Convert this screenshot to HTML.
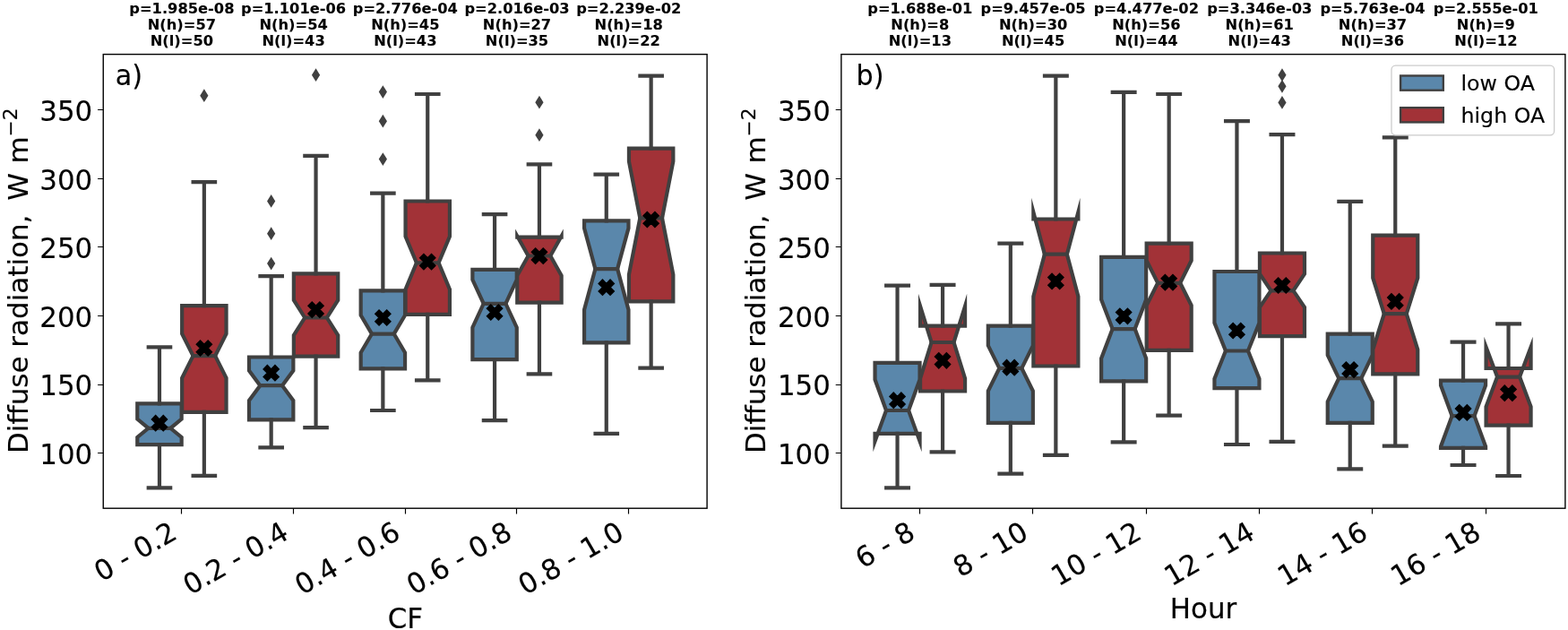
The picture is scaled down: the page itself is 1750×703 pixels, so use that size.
<!DOCTYPE html>
<html lang="en">
<head>
<meta charset="utf-8">
<title>Diffuse radiation box plots</title>
<style>
html,body{margin:0;padding:0;background:#fff;}
body{width:1750px;height:703px;overflow:hidden;}
svg{display:block;}
text{white-space:pre;}
</style>
</head>
<body>
<svg width="1750" height="703" viewBox="0 0 1750 703" font-family="'DejaVu Sans', 'Liberation Sans', sans-serif" fill="#000">
<rect x="0" y="0" width="1750" height="703" fill="#fff"/>
<g class="axes-a">
<path d="M153.27 496.2 L202.65 496.2 L202.65 487.99 L190.31 477.8 L202.65 467.61 L202.65 450.3 L153.27 450.3 L153.27 467.61 L165.61 477.8 L153.27 487.99 Z" fill="#5a87ab" stroke="#404040" stroke-width="4.2" stroke-linejoin="miter" stroke-miterlimit="12"/>
<path d="M177.96 450.3 V387.4 M177.96 496.2 V544.3 M165.74 387.4 H190.18 M165.74 544.3 H190.18 M165.61 477.8 H190.31" fill="none" stroke="#404040" stroke-width="4.2" stroke-linecap="square"/>
<path d="M203.15 459.8 L252.53 459.8 L252.53 421.76 L240.19 397.1 L252.53 372.44 L252.53 341.2 L203.15 341.2 L203.15 372.44 L215.49 397.1 L203.15 421.76 Z" fill="#a23237" stroke="#404040" stroke-width="4.2" stroke-linejoin="miter" stroke-miterlimit="12"/>
<path d="M227.84 341.2 V203.1 M227.84 459.8 V530.8 M215.62 203.1 H240.06 M215.62 530.8 H240.06 M215.49 397.1 H240.19" fill="none" stroke="#404040" stroke-width="4.2" stroke-linecap="square"/>
<path d="M227.84 99.3 L232.44 106.7 L227.84 114.1 L223.24 106.7 Z" fill="#404040"/>
<path d="M277.97 468.4 L327.35 468.4 L327.35 446.94 L315.01 430.2 L327.35 413.46 L327.35 398.5 L277.97 398.5 L277.97 413.46 L290.31 430.2 L277.97 446.94 Z" fill="#5a87ab" stroke="#404040" stroke-width="4.2" stroke-linejoin="miter" stroke-miterlimit="12"/>
<path d="M302.66 398.5 V308.1 M302.66 468.4 V499.4 M290.44 308.1 H314.88 M290.44 499.4 H314.88 M290.31 430.2 H315.01" fill="none" stroke="#404040" stroke-width="4.2" stroke-linecap="square"/>
<path d="M302.66 217 L307.26 224.4 L302.66 231.8 L298.06 224.4 Z" fill="#404040"/>
<path d="M302.66 253.3 L307.26 260.7 L302.66 268.1 L298.06 260.7 Z" fill="#404040"/>
<path d="M302.66 286.7 L307.26 294.1 L302.66 301.5 L298.06 294.1 Z" fill="#404040"/>
<path d="M327.85 397.6 L377.23 397.6 L377.23 374.2 L364.89 354.5 L377.23 334.8 L377.23 305.4 L327.85 305.4 L327.85 334.8 L340.19 354.5 L327.85 374.2 Z" fill="#a23237" stroke="#404040" stroke-width="4.2" stroke-linejoin="miter" stroke-miterlimit="12"/>
<path d="M352.54 305.4 V173.9 M352.54 397.6 V477.1 M340.32 173.9 H364.76 M340.32 477.1 H364.76 M340.19 354.5 H364.89" fill="none" stroke="#404040" stroke-width="4.2" stroke-linecap="square"/>
<path d="M352.54 76.3 L357.14 83.7 L352.54 91.1 L347.94 83.7 Z" fill="#404040"/>
<path d="M402.67 411.4 L452.05 411.4 L452.05 393.45 L439.71 372.6 L452.05 351.75 L452.05 324.3 L402.67 324.3 L402.67 351.75 L415.01 372.6 L402.67 393.45 Z" fill="#5a87ab" stroke="#404040" stroke-width="4.2" stroke-linejoin="miter" stroke-miterlimit="12"/>
<path d="M427.36 324.3 V215.7 M427.36 411.4 V458 M415.14 215.7 H439.58 M415.14 458 H439.58 M415.01 372.6 H439.71" fill="none" stroke="#404040" stroke-width="4.2" stroke-linecap="square"/>
<path d="M427.36 95.2 L431.96 102.6 L427.36 110 L422.76 102.6 Z" fill="#404040"/>
<path d="M427.36 127.8 L431.96 135.2 L427.36 142.6 L422.76 135.2 Z" fill="#404040"/>
<path d="M427.36 170.2 L431.96 177.6 L427.36 185 L422.76 177.6 Z" fill="#404040"/>
<path d="M452.55 350.9 L501.93 350.9 L501.93 322.88 L489.59 293.3 L501.93 263.72 L501.93 224.5 L452.55 224.5 L452.55 263.72 L464.89 293.3 L452.55 322.88 Z" fill="#a23237" stroke="#404040" stroke-width="4.2" stroke-linejoin="miter" stroke-miterlimit="12"/>
<path d="M477.24 224.5 V105 M477.24 350.9 V424.4 M465.02 105 H489.46 M465.02 424.4 H489.46 M464.89 293.3 H489.59" fill="none" stroke="#404040" stroke-width="4.2" stroke-linecap="square"/>
<path d="M527.37 401.2 L576.75 401.2 L576.75 365.44 L564.41 338.8 L576.75 312.16 L576.75 300.8 L527.37 300.8 L527.37 312.16 L539.71 338.8 L527.37 365.44 Z" fill="#5a87ab" stroke="#404040" stroke-width="4.2" stroke-linejoin="miter" stroke-miterlimit="12"/>
<path d="M552.06 300.8 V239.2 M552.06 401.2 V469.1 M539.84 239.2 H564.28 M539.84 469.1 H564.28 M539.71 338.8 H564.41" fill="none" stroke="#404040" stroke-width="4.2" stroke-linecap="square"/>
<path d="M577.25 337.6 L626.63 337.6 L626.63 307.56 L614.29 285.5 L626.63 263.44 L626.63 264.6 L577.25 264.6 L577.25 263.44 L589.59 285.5 L577.25 307.56 Z" fill="#a23237" stroke="#404040" stroke-width="4.2" stroke-linejoin="miter" stroke-miterlimit="12"/>
<path d="M601.94 264.6 V183.3 M601.94 337.6 V417.4 M589.72 183.3 H614.16 M589.72 417.4 H614.16 M589.59 285.5 H614.29" fill="none" stroke="#404040" stroke-width="4.2" stroke-linecap="square"/>
<path d="M601.94 106.8 L606.54 114.2 L601.94 121.6 L597.34 114.2 Z" fill="#404040"/>
<path d="M601.94 143.3 L606.54 150.7 L601.94 158.1 L597.34 150.7 Z" fill="#404040"/>
<path d="M652.07 382.3 L701.45 382.3 L701.45 345.59 L689.11 300.1 L701.45 254.61 L701.45 246.4 L652.07 246.4 L652.07 254.61 L664.41 300.1 L652.07 345.59 Z" fill="#5a87ab" stroke="#404040" stroke-width="4.2" stroke-linejoin="miter" stroke-miterlimit="12"/>
<path d="M676.76 246.4 V194.7 M676.76 382.3 V483.9 M664.54 194.7 H688.98 M664.54 483.9 H688.98 M664.41 300.1 H689.11" fill="none" stroke="#404040" stroke-width="4.2" stroke-linecap="square"/>
<path d="M701.95 336.4 L751.33 336.4 L751.33 306.47 L738.99 243.3 L751.33 180.13 L751.33 165.7 L701.95 165.7 L701.95 180.13 L714.29 243.3 L701.95 306.47 Z" fill="#a23237" stroke="#404040" stroke-width="4.2" stroke-linejoin="miter" stroke-miterlimit="12"/>
<path d="M726.64 165.7 V84.7 M726.64 336.4 V410.6 M714.42 84.7 H738.86 M714.42 410.6 H738.86 M714.29 243.3 H738.99" fill="none" stroke="#404040" stroke-width="4.2" stroke-linecap="square"/>
<path d="M173.66 463.6 L177.96 467.9 L182.26 463.6 L186.56 467.9 L182.26 472.2 L186.56 476.5 L182.26 480.8 L177.96 476.5 L173.66 480.8 L169.36 476.5 L173.66 472.2 L169.36 467.9 Z" fill="#000" stroke="#000" stroke-width="1.4" stroke-linejoin="miter"/>
<path d="M223.54 379.9 L227.84 384.2 L232.14 379.9 L236.44 384.2 L232.14 388.5 L236.44 392.8 L232.14 397.1 L227.84 392.8 L223.54 397.1 L219.24 392.8 L223.54 388.5 L219.24 384.2 Z" fill="#000" stroke="#000" stroke-width="1.4" stroke-linejoin="miter"/>
<path d="M298.36 407.6 L302.66 411.9 L306.96 407.6 L311.26 411.9 L306.96 416.2 L311.26 420.5 L306.96 424.8 L302.66 420.5 L298.36 424.8 L294.06 420.5 L298.36 416.2 L294.06 411.9 Z" fill="#000" stroke="#000" stroke-width="1.4" stroke-linejoin="miter"/>
<path d="M348.24 337 L352.54 341.3 L356.84 337 L361.14 341.3 L356.84 345.6 L361.14 349.9 L356.84 354.2 L352.54 349.9 L348.24 354.2 L343.94 349.9 L348.24 345.6 L343.94 341.3 Z" fill="#000" stroke="#000" stroke-width="1.4" stroke-linejoin="miter"/>
<path d="M423.06 345.9 L427.36 350.2 L431.66 345.9 L435.96 350.2 L431.66 354.5 L435.96 358.8 L431.66 363.1 L427.36 358.8 L423.06 363.1 L418.76 358.8 L423.06 354.5 L418.76 350.2 Z" fill="#000" stroke="#000" stroke-width="1.4" stroke-linejoin="miter"/>
<path d="M472.94 283.5 L477.24 287.8 L481.54 283.5 L485.84 287.8 L481.54 292.1 L485.84 296.4 L481.54 300.7 L477.24 296.4 L472.94 300.7 L468.64 296.4 L472.94 292.1 L468.64 287.8 Z" fill="#000" stroke="#000" stroke-width="1.4" stroke-linejoin="miter"/>
<path d="M547.76 339.9 L552.06 344.2 L556.36 339.9 L560.66 344.2 L556.36 348.5 L560.66 352.8 L556.36 357.1 L552.06 352.8 L547.76 357.1 L543.46 352.8 L547.76 348.5 L543.46 344.2 Z" fill="#000" stroke="#000" stroke-width="1.4" stroke-linejoin="miter"/>
<path d="M597.64 277 L601.94 281.3 L606.24 277 L610.54 281.3 L606.24 285.6 L610.54 289.9 L606.24 294.2 L601.94 289.9 L597.64 294.2 L593.34 289.9 L597.64 285.6 L593.34 281.3 Z" fill="#000" stroke="#000" stroke-width="1.4" stroke-linejoin="miter"/>
<path d="M672.46 312.1 L676.76 316.4 L681.06 312.1 L685.36 316.4 L681.06 320.7 L685.36 325 L681.06 329.3 L676.76 325 L672.46 329.3 L668.16 325 L672.46 320.7 L668.16 316.4 Z" fill="#000" stroke="#000" stroke-width="1.4" stroke-linejoin="miter"/>
<path d="M722.34 236.4 L726.64 240.7 L730.94 236.4 L735.24 240.7 L730.94 245 L735.24 249.3 L730.94 253.6 L726.64 249.3 L722.34 253.6 L718.04 249.3 L722.34 245 L718.04 240.7 Z" fill="#000" stroke="#000" stroke-width="1.4" stroke-linejoin="miter"/>
<rect x="115.25" y="60.6" width="673.85" height="506.6" fill="none" stroke="#000" stroke-width="1.4"/>
<path d="M115.25 122.5 h-6.2 M115.25 199.5 h-6.2 M115.25 275.5 h-6.2 M115.25 352.5 h-6.2 M115.25 429.5 h-6.2 M115.25 505.5 h-6.2 M202.5 567.2 v6.2 M327.5 567.2 v6.2 M452.5 567.2 v6.2 M576.5 567.2 v6.2 M701.5 567.2 v6.2" fill="none" stroke="#000" stroke-width="1.15"/>
<text transform="translate(103.2 134.9) scale(1.012 1.067)" font-size="30.5" text-anchor="end" stroke="#000" stroke-width="0.15">350</text>
<text transform="translate(103.2 211.5) scale(1.012 1.067)" font-size="30.5" text-anchor="end" stroke="#000" stroke-width="0.15">300</text>
<text transform="translate(103.2 288.1) scale(1.012 1.067)" font-size="30.5" text-anchor="end" stroke="#000" stroke-width="0.15">250</text>
<text transform="translate(103.2 364.8) scale(1.012 1.067)" font-size="30.5" text-anchor="end" stroke="#000" stroke-width="0.15">200</text>
<text transform="translate(103.2 441.4) scale(1.012 1.067)" font-size="30.5" text-anchor="end" stroke="#000" stroke-width="0.15">150</text>
<text transform="translate(103.2 518) scale(1.012 1.067)" font-size="30.5" text-anchor="end" stroke="#000" stroke-width="0.15">100</text>
<text transform="translate(199.4 600) rotate(-30) scale(1.012 1.02)" font-size="30.5" text-anchor="end" stroke="#000" stroke-width="0.15">0 - 0.2</text>
<text transform="translate(324.1 600) rotate(-30) scale(1.012 1.02)" font-size="30.5" text-anchor="end" stroke="#000" stroke-width="0.15">0.2 - 0.4</text>
<text transform="translate(448.8 600) rotate(-30) scale(1.012 1.02)" font-size="30.5" text-anchor="end" stroke="#000" stroke-width="0.15">0.4 - 0.6</text>
<text transform="translate(573.5 600) rotate(-30) scale(1.012 1.02)" font-size="30.5" text-anchor="end" stroke="#000" stroke-width="0.15">0.6 - 0.8</text>
<text transform="translate(698.2 600) rotate(-30) scale(1.012 1.02)" font-size="30.5" text-anchor="end" stroke="#000" stroke-width="0.15">0.8 - 1.0</text>
<text transform="translate(202.9 14.7) scale(1.053 1)" font-size="15.45" text-anchor="middle" font-weight="bold" stroke="#000" stroke-width="0.1">p=1.985e-08</text>
<text transform="translate(202.9 32.9) scale(1.053 1)" font-size="15.45" text-anchor="middle" font-weight="bold" stroke="#000" stroke-width="0.1">N(h)=57</text>
<text transform="translate(202.9 51.1) scale(1.053 1)" font-size="15.45" text-anchor="middle" font-weight="bold" stroke="#000" stroke-width="0.1">N(l)=50</text>
<text transform="translate(327.6 14.7) scale(1.053 1)" font-size="15.45" text-anchor="middle" font-weight="bold" stroke="#000" stroke-width="0.1">p=1.101e-06</text>
<text transform="translate(327.6 32.9) scale(1.053 1)" font-size="15.45" text-anchor="middle" font-weight="bold" stroke="#000" stroke-width="0.1">N(h)=54</text>
<text transform="translate(327.6 51.1) scale(1.053 1)" font-size="15.45" text-anchor="middle" font-weight="bold" stroke="#000" stroke-width="0.1">N(l)=43</text>
<text transform="translate(452.3 14.7) scale(1.053 1)" font-size="15.45" text-anchor="middle" font-weight="bold" stroke="#000" stroke-width="0.1">p=2.776e-04</text>
<text transform="translate(452.3 32.9) scale(1.053 1)" font-size="15.45" text-anchor="middle" font-weight="bold" stroke="#000" stroke-width="0.1">N(h)=45</text>
<text transform="translate(452.3 51.1) scale(1.053 1)" font-size="15.45" text-anchor="middle" font-weight="bold" stroke="#000" stroke-width="0.1">N(l)=43</text>
<text transform="translate(577 14.7) scale(1.053 1)" font-size="15.45" text-anchor="middle" font-weight="bold" stroke="#000" stroke-width="0.1">p=2.016e-03</text>
<text transform="translate(577 32.9) scale(1.053 1)" font-size="15.45" text-anchor="middle" font-weight="bold" stroke="#000" stroke-width="0.1">N(h)=27</text>
<text transform="translate(577 51.1) scale(1.053 1)" font-size="15.45" text-anchor="middle" font-weight="bold" stroke="#000" stroke-width="0.1">N(l)=35</text>
<text transform="translate(701.7 14.7) scale(1.053 1)" font-size="15.45" text-anchor="middle" font-weight="bold" stroke="#000" stroke-width="0.1">p=2.239e-02</text>
<text transform="translate(701.7 32.9) scale(1.053 1)" font-size="15.45" text-anchor="middle" font-weight="bold" stroke="#000" stroke-width="0.1">N(h)=18</text>
<text transform="translate(701.7 51.1) scale(1.053 1)" font-size="15.45" text-anchor="middle" font-weight="bold" stroke="#000" stroke-width="0.1">N(l)=22</text>
<text transform="translate(128.8 94.6) scale(0.99 1.067)" font-size="30.5" stroke="#000" stroke-width="0.15">a)</text>
<text transform="translate(452.3 700.5) scale(1.012 1.067)" font-size="30.5" text-anchor="middle" stroke="#000" stroke-width="0.15">CF</text>
<text transform="translate(30.5 506.1) rotate(-90) scale(1.016 0.985)" font-size="30.5" stroke="#000" stroke-width="0.15" xml:space="preserve"><tspan x="0">Diffuse radiation,  </tspan><tspan x="277.85">W </tspan><tspan x="318.5">m</tspan><tspan font-size="21.35" dy="-11.5">−2</tspan></text>
</g>
<g class="axes-b">
<path d="M976.53 483.9 L1026.55 483.9 L1026.55 492.44 L1014.04 458 L1026.55 423.56 L1026.55 404.8 L976.53 404.8 L976.53 423.56 L989.04 458 L976.53 492.44 Z" fill="#5a87ab" stroke="#404040" stroke-width="4.2" stroke-linejoin="miter" stroke-miterlimit="12"/>
<path d="M1001.54 404.8 V318.7 M1001.54 483.9 V544.3 M989.16 318.7 H1013.92 M989.16 544.3 H1013.92 M989.04 458 H1014.04" fill="none" stroke="#404040" stroke-width="4.2" stroke-linecap="square"/>
<path d="M1027.05 436.5 L1077.07 436.5 L1077.07 422.41 L1064.56 382 L1077.07 341.59 L1077.07 363.7 L1027.05 363.7 L1027.05 341.59 L1039.56 382 L1027.05 422.41 Z" fill="#a23237" stroke="#404040" stroke-width="4.2" stroke-linejoin="miter" stroke-miterlimit="12"/>
<path d="M1052.06 363.7 V317.8 M1052.06 436.5 V504.4 M1039.68 317.8 H1064.44 M1039.68 504.4 H1064.44 M1039.56 382 H1064.56" fill="none" stroke="#404040" stroke-width="4.2" stroke-linecap="square"/>
<path d="M1102.83 471.8 L1152.85 471.8 L1152.85 436.2 L1140.34 410.9 L1152.85 385.6 L1152.85 363.7 L1102.83 363.7 L1102.83 385.6 L1115.34 410.9 L1102.83 436.2 Z" fill="#5a87ab" stroke="#404040" stroke-width="4.2" stroke-linejoin="miter" stroke-miterlimit="12"/>
<path d="M1127.84 363.7 V271.6 M1127.84 471.8 V528.6 M1115.46 271.6 H1140.22 M1115.46 528.6 H1140.22 M1115.34 410.9 H1140.34" fill="none" stroke="#404040" stroke-width="4.2" stroke-linecap="square"/>
<path d="M1153.35 408.5 L1203.37 408.5 L1203.37 330.71 L1190.86 283.7 L1203.37 236.69 L1203.37 244.5 L1153.35 244.5 L1153.35 236.69 L1165.86 283.7 L1153.35 330.71 Z" fill="#a23237" stroke="#404040" stroke-width="4.2" stroke-linejoin="miter" stroke-miterlimit="12"/>
<path d="M1178.36 244.5 V84.7 M1178.36 408.5 V507.8 M1165.98 84.7 H1190.74 M1165.98 507.8 H1190.74 M1165.86 283.7 H1190.86" fill="none" stroke="#404040" stroke-width="4.2" stroke-linecap="square"/>
<path d="M1229.13 425.4 L1279.15 425.4 L1279.15 399.9 L1266.64 367.1 L1279.15 334.3 L1279.15 286.8 L1229.13 286.8 L1229.13 334.3 L1241.64 367.1 L1229.13 399.9 Z" fill="#5a87ab" stroke="#404040" stroke-width="4.2" stroke-linejoin="miter" stroke-miterlimit="12"/>
<path d="M1254.14 286.8 V102.8 M1254.14 425.4 V493.3 M1241.76 102.8 H1266.52 M1241.76 493.3 H1266.52 M1241.64 367.1 H1266.64" fill="none" stroke="#404040" stroke-width="4.2" stroke-linecap="square"/>
<path d="M1279.65 390.8 L1329.67 390.8 L1329.67 340.81 L1317.16 315.8 L1329.67 290.79 L1329.67 271.6 L1279.65 271.6 L1279.65 290.79 L1292.16 315.8 L1279.65 340.81 Z" fill="#a23237" stroke="#404040" stroke-width="4.2" stroke-linejoin="miter" stroke-miterlimit="12"/>
<path d="M1304.66 271.6 V105 M1304.66 390.8 V463.6 M1292.28 105 H1317.04 M1292.28 463.6 H1317.04 M1292.16 315.8 H1317.16" fill="none" stroke="#404040" stroke-width="4.2" stroke-linecap="square"/>
<path d="M1355.43 433.1 L1405.45 433.1 L1405.45 422.65 L1392.94 391.5 L1405.45 360.35 L1405.45 303 L1355.43 303 L1355.43 360.35 L1367.94 391.5 L1355.43 422.65 Z" fill="#5a87ab" stroke="#404040" stroke-width="4.2" stroke-linejoin="miter" stroke-miterlimit="12"/>
<path d="M1380.44 303 V135.2 M1380.44 433.1 V496 M1368.06 135.2 H1392.82 M1368.06 496 H1392.82 M1367.94 391.5 H1392.94" fill="none" stroke="#404040" stroke-width="4.2" stroke-linecap="square"/>
<path d="M1405.95 375.1 L1455.97 375.1 L1455.97 342.91 L1443.46 324.3 L1455.97 305.69 L1455.97 282.5 L1405.95 282.5 L1405.95 305.69 L1418.46 324.3 L1405.95 342.91 Z" fill="#a23237" stroke="#404040" stroke-width="4.2" stroke-linejoin="miter" stroke-miterlimit="12"/>
<path d="M1430.96 282.5 V150.2 M1430.96 375.1 V492.8 M1418.58 150.2 H1443.34 M1418.58 492.8 H1443.34 M1418.46 324.3 H1443.46" fill="none" stroke="#404040" stroke-width="4.2" stroke-linecap="square"/>
<path d="M1430.96 76.3 L1435.56 83.7 L1430.96 91.1 L1426.36 83.7 Z" fill="#404040"/>
<path d="M1430.96 88.9 L1435.56 96.3 L1430.96 103.7 L1426.36 96.3 Z" fill="#404040"/>
<path d="M1430.96 107 L1435.56 114.4 L1430.96 121.8 L1426.36 114.4 Z" fill="#404040"/>
<path d="M1481.73 471.8 L1531.75 471.8 L1531.75 448.16 L1519.24 422.2 L1531.75 396.24 L1531.75 372.6 L1481.73 372.6 L1481.73 396.24 L1494.24 422.2 L1481.73 448.16 Z" fill="#5a87ab" stroke="#404040" stroke-width="4.2" stroke-linejoin="miter" stroke-miterlimit="12"/>
<path d="M1506.74 372.6 V224.9 M1506.74 471.8 V523.3 M1494.36 224.9 H1519.12 M1494.36 523.3 H1519.12 M1494.24 422.2 H1519.24" fill="none" stroke="#404040" stroke-width="4.2" stroke-linecap="square"/>
<path d="M1532.25 417.4 L1582.27 417.4 L1582.27 390.15 L1569.76 350.2 L1582.27 310.25 L1582.27 262.6 L1532.25 262.6 L1532.25 310.25 L1544.76 350.2 L1532.25 390.15 Z" fill="#a23237" stroke="#404040" stroke-width="4.2" stroke-linejoin="miter" stroke-miterlimit="12"/>
<path d="M1557.26 262.6 V153.3 M1557.26 417.4 V497.7 M1544.88 153.3 H1569.64 M1544.88 497.7 H1569.64 M1544.76 350.2 H1569.76" fill="none" stroke="#404040" stroke-width="4.2" stroke-linecap="square"/>
<path d="M1608.03 499.9 L1658.05 499.9 L1658.05 498.18 L1645.54 464.1 L1658.05 430.02 L1658.05 424.7 L1608.03 424.7 L1608.03 430.02 L1620.54 464.1 L1608.03 498.18 Z" fill="#5a87ab" stroke="#404040" stroke-width="4.2" stroke-linejoin="miter" stroke-miterlimit="12"/>
<path d="M1633.04 424.7 V381.6 M1633.04 499.9 V519 M1620.66 381.6 H1645.42 M1620.66 519 H1645.42 M1620.54 464.1 H1645.54" fill="none" stroke="#404040" stroke-width="4.2" stroke-linecap="square"/>
<path d="M1658.55 474.6 L1708.57 474.6 L1708.57 453.88 L1696.06 420.6 L1708.57 387.32 L1708.57 411 L1658.55 411 L1658.55 387.32 L1671.06 420.6 L1658.55 453.88 Z" fill="#a23237" stroke="#404040" stroke-width="4.2" stroke-linejoin="miter" stroke-miterlimit="12"/>
<path d="M1683.56 411 V361.3 M1683.56 474.6 V531 M1671.18 361.3 H1695.94 M1671.18 531 H1695.94 M1671.06 420.6 H1696.06" fill="none" stroke="#404040" stroke-width="4.2" stroke-linecap="square"/>
<path d="M997.24 438.1 L1001.54 442.4 L1005.84 438.1 L1010.14 442.4 L1005.84 446.7 L1010.14 451 L1005.84 455.3 L1001.54 451 L997.24 455.3 L992.94 451 L997.24 446.7 L992.94 442.4 Z" fill="#000" stroke="#000" stroke-width="1.4" stroke-linejoin="miter"/>
<path d="M1047.76 393.7 L1052.06 398 L1056.36 393.7 L1060.66 398 L1056.36 402.3 L1060.66 406.6 L1056.36 410.9 L1052.06 406.6 L1047.76 410.9 L1043.46 406.6 L1047.76 402.3 L1043.46 398 Z" fill="#000" stroke="#000" stroke-width="1.4" stroke-linejoin="miter"/>
<path d="M1123.54 401.6 L1127.84 405.9 L1132.14 401.6 L1136.44 405.9 L1132.14 410.2 L1136.44 414.5 L1132.14 418.8 L1127.84 414.5 L1123.54 418.8 L1119.24 414.5 L1123.54 410.2 L1119.24 405.9 Z" fill="#000" stroke="#000" stroke-width="1.4" stroke-linejoin="miter"/>
<path d="M1174.06 305.3 L1178.36 309.6 L1182.66 305.3 L1186.96 309.6 L1182.66 313.9 L1186.96 318.2 L1182.66 322.5 L1178.36 318.2 L1174.06 322.5 L1169.76 318.2 L1174.06 313.9 L1169.76 309.6 Z" fill="#000" stroke="#000" stroke-width="1.4" stroke-linejoin="miter"/>
<path d="M1249.84 344.2 L1254.14 348.5 L1258.44 344.2 L1262.74 348.5 L1258.44 352.8 L1262.74 357.1 L1258.44 361.4 L1254.14 357.1 L1249.84 361.4 L1245.54 357.1 L1249.84 352.8 L1245.54 348.5 Z" fill="#000" stroke="#000" stroke-width="1.4" stroke-linejoin="miter"/>
<path d="M1300.36 306.5 L1304.66 310.8 L1308.96 306.5 L1313.26 310.8 L1308.96 315.1 L1313.26 319.4 L1308.96 323.7 L1304.66 319.4 L1300.36 323.7 L1296.06 319.4 L1300.36 315.1 L1296.06 310.8 Z" fill="#000" stroke="#000" stroke-width="1.4" stroke-linejoin="miter"/>
<path d="M1376.14 360.4 L1380.44 364.7 L1384.74 360.4 L1389.04 364.7 L1384.74 369 L1389.04 373.3 L1384.74 377.6 L1380.44 373.3 L1376.14 377.6 L1371.84 373.3 L1376.14 369 L1371.84 364.7 Z" fill="#000" stroke="#000" stroke-width="1.4" stroke-linejoin="miter"/>
<path d="M1426.66 309.9 L1430.96 314.2 L1435.26 309.9 L1439.56 314.2 L1435.26 318.5 L1439.56 322.8 L1435.26 327.1 L1430.96 322.8 L1426.66 327.1 L1422.36 322.8 L1426.66 318.5 L1422.36 314.2 Z" fill="#000" stroke="#000" stroke-width="1.4" stroke-linejoin="miter"/>
<path d="M1502.44 404 L1506.74 408.3 L1511.04 404 L1515.34 408.3 L1511.04 412.6 L1515.34 416.9 L1511.04 421.2 L1506.74 416.9 L1502.44 421.2 L1498.14 416.9 L1502.44 412.6 L1498.14 408.3 Z" fill="#000" stroke="#000" stroke-width="1.4" stroke-linejoin="miter"/>
<path d="M1552.96 327.8 L1557.26 332.1 L1561.56 327.8 L1565.86 332.1 L1561.56 336.4 L1565.86 340.7 L1561.56 345 L1557.26 340.7 L1552.96 345 L1548.66 340.7 L1552.96 336.4 L1548.66 332.1 Z" fill="#000" stroke="#000" stroke-width="1.4" stroke-linejoin="miter"/>
<path d="M1628.74 451.8 L1633.04 456.1 L1637.34 451.8 L1641.64 456.1 L1637.34 460.4 L1641.64 464.7 L1637.34 469 L1633.04 464.7 L1628.74 469 L1624.44 464.7 L1628.74 460.4 L1624.44 456.1 Z" fill="#000" stroke="#000" stroke-width="1.4" stroke-linejoin="miter"/>
<path d="M1679.26 430.1 L1683.56 434.4 L1687.86 430.1 L1692.16 434.4 L1687.86 438.7 L1692.16 443 L1687.86 447.3 L1683.56 443 L1679.26 447.3 L1674.96 443 L1679.26 438.7 L1674.96 434.4 Z" fill="#000" stroke="#000" stroke-width="1.4" stroke-linejoin="miter"/>
<rect x="938.9" y="60.6" width="808" height="506.6" fill="none" stroke="#000" stroke-width="1.4"/>
<path d="M938.9 122.5 h-6.2 M938.9 199.5 h-6.2 M938.9 275.5 h-6.2 M938.9 352.5 h-6.2 M938.9 429.5 h-6.2 M938.9 505.5 h-6.2 M1026.5 567.2 v6.2 M1152.5 567.2 v6.2 M1279.5 567.2 v6.2 M1405.5 567.2 v6.2 M1531.5 567.2 v6.2 M1658.5 567.2 v6.2" fill="none" stroke="#000" stroke-width="1.15"/>
<text transform="translate(926.8 134.9) scale(1.012 1.067)" font-size="30.5" text-anchor="end" stroke="#000" stroke-width="0.15">350</text>
<text transform="translate(926.8 211.5) scale(1.012 1.067)" font-size="30.5" text-anchor="end" stroke="#000" stroke-width="0.15">300</text>
<text transform="translate(926.8 288.1) scale(1.012 1.067)" font-size="30.5" text-anchor="end" stroke="#000" stroke-width="0.15">250</text>
<text transform="translate(926.8 364.8) scale(1.012 1.067)" font-size="30.5" text-anchor="end" stroke="#000" stroke-width="0.15">200</text>
<text transform="translate(926.8 441.4) scale(1.012 1.067)" font-size="30.5" text-anchor="end" stroke="#000" stroke-width="0.15">150</text>
<text transform="translate(926.8 518) scale(1.012 1.067)" font-size="30.5" text-anchor="end" stroke="#000" stroke-width="0.15">100</text>
<text transform="translate(1023.3 600) rotate(-30) scale(1.012 1.02)" font-size="30.5" text-anchor="end" stroke="#000" stroke-width="0.15">6 - 8</text>
<text transform="translate(1149.6 600) rotate(-30) scale(1.012 1.02)" font-size="30.5" text-anchor="end" stroke="#000" stroke-width="0.15">8 - 10</text>
<text transform="translate(1275.9 600) rotate(-30) scale(1.012 1.02)" font-size="30.5" text-anchor="end" stroke="#000" stroke-width="0.15">10 - 12</text>
<text transform="translate(1402.2 600) rotate(-30) scale(1.012 1.02)" font-size="30.5" text-anchor="end" stroke="#000" stroke-width="0.15">12 - 14</text>
<text transform="translate(1528.5 600) rotate(-30) scale(1.012 1.02)" font-size="30.5" text-anchor="end" stroke="#000" stroke-width="0.15">14 - 16</text>
<text transform="translate(1654.8 600) rotate(-30) scale(1.012 1.02)" font-size="30.5" text-anchor="end" stroke="#000" stroke-width="0.15">16 - 18</text>
<text transform="translate(1026.8 14.7) scale(1.053 1)" font-size="15.45" text-anchor="middle" font-weight="bold" stroke="#000" stroke-width="0.1">p=1.688e-01</text>
<text transform="translate(1026.8 32.9) scale(1.053 1)" font-size="15.45" text-anchor="middle" font-weight="bold" stroke="#000" stroke-width="0.1">N(h)=8</text>
<text transform="translate(1026.8 51.1) scale(1.053 1)" font-size="15.45" text-anchor="middle" font-weight="bold" stroke="#000" stroke-width="0.1">N(l)=13</text>
<text transform="translate(1153.1 14.7) scale(1.053 1)" font-size="15.45" text-anchor="middle" font-weight="bold" stroke="#000" stroke-width="0.1">p=9.457e-05</text>
<text transform="translate(1153.1 32.9) scale(1.053 1)" font-size="15.45" text-anchor="middle" font-weight="bold" stroke="#000" stroke-width="0.1">N(h)=30</text>
<text transform="translate(1153.1 51.1) scale(1.053 1)" font-size="15.45" text-anchor="middle" font-weight="bold" stroke="#000" stroke-width="0.1">N(l)=45</text>
<text transform="translate(1279.4 14.7) scale(1.053 1)" font-size="15.45" text-anchor="middle" font-weight="bold" stroke="#000" stroke-width="0.1">p=4.477e-02</text>
<text transform="translate(1279.4 32.9) scale(1.053 1)" font-size="15.45" text-anchor="middle" font-weight="bold" stroke="#000" stroke-width="0.1">N(h)=56</text>
<text transform="translate(1279.4 51.1) scale(1.053 1)" font-size="15.45" text-anchor="middle" font-weight="bold" stroke="#000" stroke-width="0.1">N(l)=44</text>
<text transform="translate(1405.7 14.7) scale(1.053 1)" font-size="15.45" text-anchor="middle" font-weight="bold" stroke="#000" stroke-width="0.1">p=3.346e-03</text>
<text transform="translate(1405.7 32.9) scale(1.053 1)" font-size="15.45" text-anchor="middle" font-weight="bold" stroke="#000" stroke-width="0.1">N(h)=61</text>
<text transform="translate(1405.7 51.1) scale(1.053 1)" font-size="15.45" text-anchor="middle" font-weight="bold" stroke="#000" stroke-width="0.1">N(l)=43</text>
<text transform="translate(1532 14.7) scale(1.053 1)" font-size="15.45" text-anchor="middle" font-weight="bold" stroke="#000" stroke-width="0.1">p=5.763e-04</text>
<text transform="translate(1532 32.9) scale(1.053 1)" font-size="15.45" text-anchor="middle" font-weight="bold" stroke="#000" stroke-width="0.1">N(h)=37</text>
<text transform="translate(1532 51.1) scale(1.053 1)" font-size="15.45" text-anchor="middle" font-weight="bold" stroke="#000" stroke-width="0.1">N(l)=36</text>
<text transform="translate(1658.3 14.7) scale(1.053 1)" font-size="15.45" text-anchor="middle" font-weight="bold" stroke="#000" stroke-width="0.1">p=2.555e-01</text>
<text transform="translate(1658.3 32.9) scale(1.053 1)" font-size="15.45" text-anchor="middle" font-weight="bold" stroke="#000" stroke-width="0.1">N(h)=9</text>
<text transform="translate(1658.3 51.1) scale(1.053 1)" font-size="15.45" text-anchor="middle" font-weight="bold" stroke="#000" stroke-width="0.1">N(l)=12</text>
<text transform="translate(955.6 94.6) scale(0.99 1.067)" font-size="30.5" stroke="#000" stroke-width="0.15">b)</text>
<text transform="translate(1343 690.1) scale(1.012 1.067)" font-size="30.5" text-anchor="middle" stroke="#000" stroke-width="0.15">Hour</text>
<text transform="translate(854.3 506.1) rotate(-90) scale(1.016 0.985)" font-size="30.5" stroke="#000" stroke-width="0.15" xml:space="preserve"><tspan x="0">Diffuse radiation,  </tspan><tspan x="277.85">W </tspan><tspan x="318.5">m</tspan><tspan font-size="21.35" dy="-11.5">−2</tspan></text>
</g>
<g class="legend">
<rect x="1553" y="73.1" width="181.6" height="77.7" rx="4.5" ry="4.5" fill="#fff" fill-opacity="0.8" stroke="#ccc" stroke-width="1.3"/>
<rect x="1563.1" y="84.5" width="47.7" height="16.2" fill="#5a87ab" stroke="#404040" stroke-width="2.4"/>
<rect x="1563.1" y="120.2" width="47.7" height="16.2" fill="#a23237" stroke="#404040" stroke-width="2.4"/>
<text transform="translate(1630.5 101.1)" font-size="23.7" stroke="#000" stroke-width="0.15">low OA</text>
<text transform="translate(1630.5 136.9)" font-size="23.7" stroke="#000" stroke-width="0.15">high OA</text>
</g>
</svg>
</body>
</html>
